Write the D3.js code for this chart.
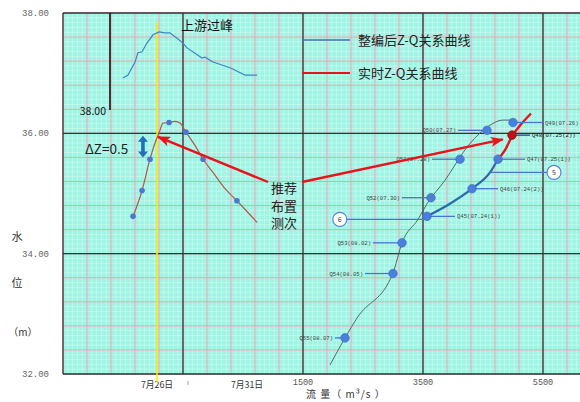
<!DOCTYPE html>
<html>
<head>
<meta charset="utf-8">
<script src="https://cdn.jsdelivr.net/npm/d3@7"></script>
<style>
body { margin: 0; background: #fff; }
svg { display: block; }
text { font-family: "Noto Sans CJK SC", "Noto Sans", sans-serif; }
.mono { font-family: "Liberation Mono", "DejaVu Sans Mono", monospace; }
</style>
</head>
<body>
<svg id="chart" width="580" height="402"></svg>
<script>
//-------------------------------DATA---------------------------------------//

// axis ticks
const zTicks = [32, 34, 36, 38];
const qTicks = [1500, 3500, 5500];
const dayTicks = [26, 31];
const dayLabels = ['7月26日', '7月31日'];

// upstream stage hydrograph (day of July, level)
const upDay = [24.11, 24.39, 24.78, 24.94, 25.17, 25.44, 25.78, 26.11, 26.44, 26.72, 27.11, 27.44, 27.67, 28.5, 28.67, 29.11, 30.06, 30.89, 31.56];
const upLevel = [38.66, 38.72, 38.99, 39.18, 39.2, 39.38, 39.55, 39.61, 39.59, 39.59, 39.48, 39.38, 39.28, 39.07, 39.09, 38.99, 38.87, 38.72, 38.72];

// local stage process
const stDay = [24.67, 25.17, 25.61, 25.94, 26.11, 26.33, 26.67, 27.0, 27.28, 27.61, 28.11, 28.56, 29.11, 29.78, 30.44, 31.56];
const stZ = [34.62, 35.05, 35.57, 35.88, 36.0, 36.17, 36.18, 36.2, 36.17, 36.02, 35.8, 35.57, 35.35, 35.08, 34.88, 34.52];
const stDotDay = [24.67, 25.17, 25.61, 26.67, 27.61, 28.56, 30.44];
const stDotZ = [34.62, 35.05, 35.57, 36.18, 36.02, 35.57, 34.88];

// gaugings
const gaugeId = ['Q45', 'Q46', 'Q47', 'Q48', 'Q49', 'Q50', 'Q51', 'Q52', 'Q53', 'Q54', 'Q55'];
const gaugeDate = ['07.24(1)', '07.24(2)', '07.25(1)', '07.25(2)', '07.26', '07.27', '07.28', '07.30', '08.02', '08.05', '08.07'];
const gaugeQ = [3567, 4317, 4750, 4983, 5000, 4567, 4117, 3633, 3150, 3000, 2200];
const gaugeZ = [34.62, 35.08, 35.57, 35.97, 36.18, 36.05, 35.57, 34.93, 34.18, 33.67, 32.6];

// thin Z-Q line through the gaugings
const fitQ = [1950, 2200, 2400, 3000, 3150, 3417, 3567, 3867, 4233, 4567, 4833, 5000];
const fitZ = [32.15, 32.6, 32.93, 33.68, 34.18, 34.57, 34.83, 35.22, 35.77, 36.1, 36.22, 36.22];

// rated curve segment (blue) and real-time curve (red)
const ratedQ = [3567, 3900, 4317, 4617, 4750];
const ratedZ = [34.62, 34.8, 35.08, 35.35, 35.57];
const liveQ = [4750, 4867, 4983, 5117, 5300];
const liveZ = [35.57, 35.72, 35.95, 36.13, 36.33];

//-------------------------------SCALES---------------------------------------//

const svg = d3.select('#chart');

const x = d3.scaleLinear().domain([-2500, 6100]).range([63, 579]);
const y = d3.scaleLinear().domain([32, 38]).range([374, 13]);
const xT = d3.scaleLinear().domain([26, 31]).range([157, 247]);
const yUp = d3.scaleLinear().domain([38, 40]).range([110, 13]);

const pLeft = x(-2500), pRight = 580, pTop = y(38), pBottom = y(32);

//-------------------------------GRID---------------------------------------//

svg.append('rect')
    .attr('x', pLeft).attr('y', pTop)
    .attr('width', pRight - pLeft).attr('height', pBottom - pTop)
    .attr('fill', '#a0f4e3')

const grid = svg.append('g')

// fine grid
grid.selectAll('.fx')
    .data(d3.range(-2500, 6101, 80))
    .enter().append('line')
    .attr('x1', d => x(d)).attr('x2', d => x(d))
    .attr('y1', pTop).attr('y2', pBottom)
    .attr('stroke', '#e8fffb').attr('stroke-width', 0.6).attr('opacity', 0.7)

grid.selectAll('.fy')
    .data(d3.range(32, 38.001, 0.08))
    .enter().append('line')
    .attr('y1', d => y(d)).attr('y2', d => y(d))
    .attr('x1', pLeft).attr('x2', pRight)
    .attr('stroke', '#e8fffb').attr('stroke-width', 0.6).attr('opacity', 0.7)

// pink grid
grid.selectAll('.px')
    .data(d3.range(-2500, 6101, 400))
    .enter().append('line')
    .attr('x1', d => x(d)).attr('x2', d => x(d))
    .attr('y1', pTop).attr('y2', pBottom)
    .attr('stroke', '#f59cb2').attr('stroke-width', 1)

grid.selectAll('.py')
    .data(d3.range(32, 38.001, 0.4))
    .enter().append('line')
    .attr('y1', d => y(d)).attr('y2', d => y(d))
    .attr('x1', pLeft).attr('x2', pRight)
    .attr('stroke', '#f59cb2').attr('stroke-width', 1)

// major grid
grid.selectAll('.mx')
    .data(d3.range(-2500, 6101, 2000))
    .enter().append('line')
    .attr('x1', d => x(d)).attr('x2', d => x(d))
    .attr('y1', pTop).attr('y2', pBottom)
    .attr('stroke', '#333').attr('stroke-width', 1.3)

grid.selectAll('.my')
    .data(zTicks)
    .enter().append('line')
    .attr('y1', d => y(d)).attr('y2', d => y(d))
    .attr('x1', pLeft).attr('x2', pRight)
    .attr('stroke', '#333').attr('stroke-width', 1.3)

//-------------------------------AXES---------------------------------------//

svg.selectAll('.zlab')
    .data(zTicks)
    .enter().append('text')
    .attr('class', 'mono')
    .attr('x', 49).attr('y', d => y(d) + 3)
    .attr('text-anchor', 'end')
    .attr('font-size', '9px')
    .attr('fill', '#666')
    .text(d => d.toFixed(2))

svg.selectAll('.qlab')
    .data(qTicks)
    .enter().append('text')
    .attr('class', 'mono')
    .attr('x', d => x(d)).attr('y', 385)
    .attr('text-anchor', 'middle')
    .attr('font-size', '8.5px')
    .attr('fill', '#555')
    .text(d => d)

svg.selectAll('.dlab')
    .data(dayTicks)
    .enter().append('text')
    .attr('x', (d, i) => xT(d)).attr('y', 388)
    .attr('text-anchor', 'middle')
    .attr('font-size', '8.8px')
    .attr('fill', '#333')
    .text((d, i) => dayLabels[i])

svg.append('line')
    .attr('x1', 188).attr('x2', 188).attr('y1', 381).attr('y2', 385)
    .attr('stroke', '#888').attr('stroke-width', 0.8)

svg.append('text')
    .attr('x', 306).attr('y', 398)
    .attr('font-size', '10px').attr('fill', '#333')
    .attr('letter-spacing', '1px')
    .text('流 量（ m³/s ）')

svg.append('text').attr('x', 17).attr('y', 241).attr('text-anchor', 'middle')
    .attr('font-size', '11px').attr('fill', '#333').text('水')
svg.append('text').attr('x', 17).attr('y', 287).attr('text-anchor', 'middle')
    .attr('font-size', '11px').attr('fill', '#333').text('位')
svg.append('text').attr('x', 23).attr('y', 336).attr('text-anchor', 'middle')
    .attr('font-size', '10px').attr('fill', '#333').text('（m）')

//-------------------------------HYDROGRAPH---------------------------------------//

// peak day marker
svg.append('line')
    .attr('x1', xT(26)).attr('x2', xT(26))
    .attr('y1', 22).attr('y2', 382)
    .attr('stroke', '#f4f000').attr('stroke-width', 1.6)

// upstream level scale bar
svg.append('line')
    .attr('x1', 110).attr('x2', 110)
    .attr('y1', yUp(40)).attr('y2', yUp(38))
    .attr('stroke', '#111').attr('stroke-width', 1.6)

svg.append('text')
    .attr('x', 106).attr('y', yUp(38) + 5)
    .attr('text-anchor', 'end')
    .attr('font-size', '10.5px').attr('fill', '#111')
    .text('38.00')

svg.append('path')
    .datum(d3.zip(upDay, upLevel))
    .attr('fill', 'none')
    .attr('stroke', '#3b87c4').attr('stroke-width', 1.2)
    .attr('d', d3.line().x(d => xT(d[0])).y(d => yUp(d[1])))

svg.append('text')
    .attr('x', 181).attr('y', 30)
    .attr('font-size', '13px').attr('fill', '#111')
    .text('上游过峰')

svg.append('path')
    .datum(d3.zip(stDay, stZ))
    .attr('fill', 'none')
    .attr('stroke', '#b4574c').attr('stroke-width', 1.2)
    .attr('d', d3.line().curve(d3.curveMonotoneX).x(d => xT(d[0])).y(d => y(d[1])))

svg.selectAll('.stdot')
    .data(d3.zip(stDotDay, stDotZ))
    .enter().append('circle')
    .attr('cx', d => xT(d[0])).attr('cy', d => y(d[1]))
    .attr('r', 2.8)
    .attr('fill', '#4a78cf')

//-------------------------------Z-Q---------------------------------------//

const lineQZ = d3.line().x(d => x(d[0])).y(d => y(d[1]))

svg.append('path')
    .datum(d3.zip(fitQ, fitZ))
    .attr('fill', 'none')
    .attr('stroke', '#4d5a58').attr('stroke-width', 0.9)
    .attr('d', lineQZ.curve(d3.curveMonotoneX))

svg.append('path')
    .datum(d3.zip(ratedQ, ratedZ))
    .attr('fill', 'none')
    .attr('stroke', '#2c68ad').attr('stroke-width', 2.2)
    .attr('d', lineQZ.curve(d3.curveMonotoneX))

svg.append('path')
    .datum(d3.zip(liveQ, liveZ))
    .attr('fill', 'none')
    .attr('stroke', '#e8141c').attr('stroke-width', 2.4)
    .attr('d', lineQZ.curve(d3.curveMonotoneX))

// label leaders: connector length in px, negative = label on the left
const leader = { Q45: 28, Q46: 26, Q47: 27, Q48: 18, Q49: 30, Q50: -29, Q51: -28, Q52: -29, Q53: -29, Q54: -28, Q55: -10 };

const gauges = gaugeId.map((id, i) => ({ id: id, date: gaugeDate[i], q: gaugeQ[i], z: gaugeZ[i] }));

const gaugeG = svg.append('g')

gaugeG.selectAll('line')
    .data(gauges)
    .enter().append('line')
    .attr('x1', d => x(d.q)).attr('x2', d => x(d.q) + leader[d.id])
    .attr('y1', d => y(d.z)).attr('y2', d => y(d.z))
    .attr('stroke', d => d.id === 'Q48' ? '#2a3f9a' : '#4a72d8').attr('stroke-width', 1.3)

gaugeG.selectAll('text')
    .data(gauges)
    .enter().append('text')
    .attr('class', 'mono')
    .attr('x', d => x(d.q) + leader[d.id] + (leader[d.id] > 0 ? 2 : -2))
    .attr('y', d => y(d.z) + 2)
    .attr('text-anchor', d => leader[d.id] > 0 ? 'start' : 'end')
    .attr('font-size', '5.6px')
    .attr('fill', d => d.id === 'Q48' ? '#111' : '#444')
    .text(d => d.id + '(' + d.date + ')')

gaugeG.selectAll('circle')
    .data(gauges)
    .enter().append('circle')
    .attr('cx', d => x(d.q)).attr('cy', d => y(d.z))
    .attr('r', 4.3)
    .attr('fill', d => d.id === 'Q48' ? '#c0101a' : '#4b7fdc')
    .attr('stroke', d => d.id === 'Q48' ? '#8a0c10' : '#3c6bc4').attr('stroke-width', 0.6)

// numbered callouts
const callouts = [
    { label: '6', q: 3530, z: 34.57, dx: -85 },
    { label: '5', q: 4617, z: 35.35, dx: 64 }
];

const callG = svg.append('g')

callG.selectAll('line')
    .data(callouts)
    .enter().append('line')
    .attr('x1', d => x(d.q)).attr('x2', d => x(d.q) + d.dx)
    .attr('y1', d => y(d.z)).attr('y2', d => y(d.z))
    .attr('stroke', '#4a72d8').attr('stroke-width', 1.2)

callG.selectAll('circle')
    .data(callouts)
    .enter().append('circle')
    .attr('cx', d => x(d.q) + d.dx).attr('cy', d => y(d.z))
    .attr('r', 7)
    .attr('fill', '#fff').attr('stroke', '#5b7fd6').attr('stroke-width', 1.2)

callG.selectAll('text')
    .data(callouts)
    .enter().append('text')
    .attr('x', d => x(d.q) + d.dx).attr('y', d => y(d.z) + 2.5)
    .attr('text-anchor', 'middle')
    .attr('font-size', '7px').attr('fill', '#333')
    .text(d => d.label)

//-------------------------------ANNOTATIONS---------------------------------------//

const defs = svg.append('defs')
defs.append('marker')
    .attr('id', 'redHead')
    .attr('markerUnits', 'userSpaceOnUse')
    .attr('markerWidth', 13).attr('markerHeight', 10)
    .attr('refX', 12).attr('refY', 5)
    .attr('orient', 'auto')
    .append('path')
    .attr('d', 'M0,0 L13,5 L0,10 L3,5 z')
    .attr('fill', '#e8141c')

// recommended gauging arrows
svg.append('line')
    .attr('x1', 268).attr('y1', 182)
    .attr('x2', xT(26.06)).attr('y2', y(35.94))
    .attr('stroke', '#e8141c').attr('stroke-width', 2.4)
    .attr('marker-end', 'url(#redHead)')

svg.append('line')
    .attr('x1', 302).attr('y1', 182)
    .attr('x2', x(4830)).attr('y2', y(35.9))
    .attr('stroke', '#e8141c').attr('stroke-width', 2.4)
    .attr('marker-end', 'url(#redHead)')

const recText = ['推荐', '布置', '测次'];
svg.selectAll('.rec')
    .data(recText)
    .enter().append('text')
    .attr('x', 271).attr('y', (d, i) => 193 + i * 17.5)
    .attr('font-size', '13px').attr('fill', '#222')
    .text(d => d)

// delta Z marker
const dzX = xT(25.22), dzTop = y(35.96), dzBot = y(35.6);
svg.append('path')
    .attr('d', 'M' + dzX + ',' + dzTop + ' l5,6 h-3.2 v' + (dzBot - dzTop - 12) + ' h3.2 l-5,6 l-5,-6 h3.2 v' + (-(dzBot - dzTop - 12)) + ' h-3.2 z')
    .attr('fill', '#1f6fbb')

svg.append('text')
    .attr('x', 85).attr('y', 154)
    .attr('font-size', '13.5px').attr('fill', '#222')
    .text('ΔZ=0.5')

// legend
const legend = [
    { name: '整编后Z-Q关系曲线', color: '#4a6fb0', width: 1.6 },
    { name: '实时Z-Q关系曲线', color: '#e8141c', width: 2.2 }
];

const legG = svg.append('g')
legG.selectAll('line')
    .data(legend)
    .enter().append('line')
    .attr('x1', 302).attr('x2', 350)
    .attr('y1', (d, i) => 40 + i * 33).attr('y2', (d, i) => 40 + i * 33)
    .attr('stroke', d => d.color).attr('stroke-width', d => d.width)

legG.selectAll('text')
    .data(legend)
    .enter().append('text')
    .attr('x', 358).attr('y', (d, i) => 45 + i * 33)
    .attr('font-size', '13px').attr('fill', '#222')
    .text(d => d.name)
</script>
</body>
</html>
